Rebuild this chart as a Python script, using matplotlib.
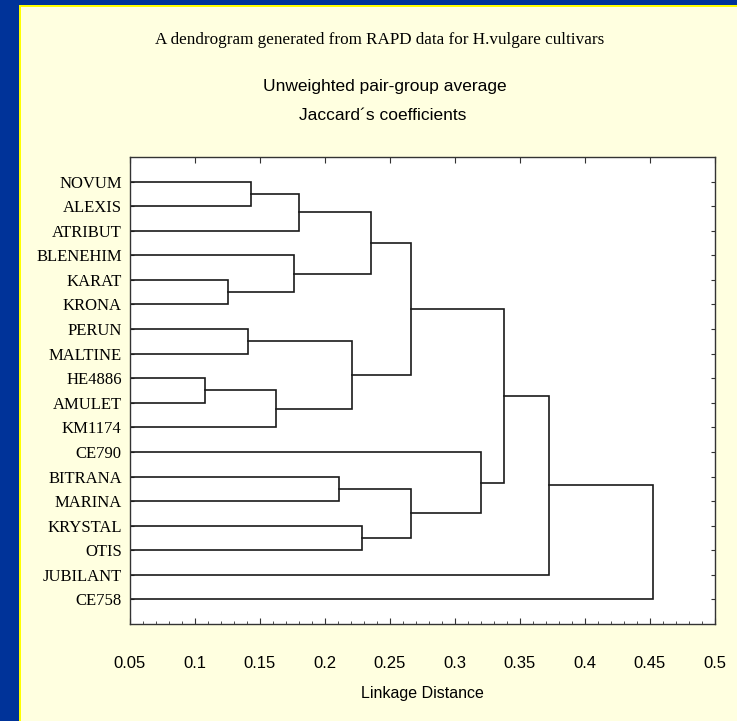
"""
Dendrogram (UPGMA, Jaccard) of RAPD data for H. vulgare cultivars
"""

import matplotlib
matplotlib.use('Agg')
from matplotlib import pyplot as plt
from matplotlib.patches import Rectangle
from matplotlib.ticker import MultipleLocator

# Leaves, top to bottom
cultivars = ['NOVUM', 'ALEXIS', 'ATRIBUT', 'BLENEHIM', 'KARAT', 'KRONA',
             'PERUN', 'MALTINE', 'HE4886', 'AMULET', 'KM1174', 'CE790',
             'BITRANA', 'MARINA', 'KRYSTAL', 'OTIS', 'JUBILANT', 'CE758']

# Merges: (left node, right node, linkage distance); new nodes numbered from 18
merge_left = [0, 18, 4, 3, 19, 6, 8, 24, 23, 22, 12, 14, 28, 11, 27, 32, 33]
merge_right = [1, 2, 5, 20, 21, 7, 9, 10, 25, 26, 13, 15, 29, 30, 31, 16, 17]
merge_dist = [0.143, 0.180, 0.125, 0.1765, 0.2355, 0.141, 0.1075, 0.162,
              0.221, 0.266, 0.211, 0.2285, 0.2665, 0.320, 0.3375, 0.372, 0.452]

x_ticks = [0.05, 0.1, 0.15, 0.2, 0.25, 0.3, 0.35, 0.4, 0.45, 0.5]
x_labels = ['0.05', '0.1', '0.15', '0.2', '0.25', '0.3', '0.35', '0.4', '0.45', '0.5']

sans = ['Liberation Sans', 'DejaVu Sans']
serif = ['Liberation Serif', 'DejaVu Serif']

fig = plt.figure(figsize=(7.37, 7.21), dpi=100)
fig.patch.set_facecolor('#ffffe0')

# Blue frame with yellow inner edge (left and top only)
W, H = 737.0, 721.0
fig.patches.append(Rectangle((0, 0), 19 / W, 1, transform=fig.transFigure,
                             facecolor='#003399', edgecolor='none', zorder=0))
fig.patches.append(Rectangle((0, 1 - 5 / H), 1, 5 / H, transform=fig.transFigure,
                             facecolor='#003399', edgecolor='none', zorder=0))
fig.patches.append(Rectangle((19 / W, 0), 2 / W, 1 - 5 / H, transform=fig.transFigure,
                             facecolor='#ffff00', edgecolor='none', zorder=0))
fig.patches.append(Rectangle((19 / W, 1 - 7 / H), 1, 2 / H, transform=fig.transFigure,
                             facecolor='#ffff00', edgecolor='none', zorder=0))

ax = fig.add_axes([130 / W, 1 - 624 / H, 585 / W, 467 / H])
ax.set_facecolor('white')

# Draw the tree
node_y = {i: i + 1 for i in range(len(cultivars))}
node_h = {i: 0.0 for i in range(len(cultivars))}
for k, (a, b, d) in enumerate(zip(merge_left, merge_right, merge_dist)):
    ya, yb = node_y[a], node_y[b]
    ax.plot([node_h[a], d, d, node_h[b]], [ya, ya, yb, yb],
            color='#1a1a1a', linewidth=1.2, solid_joinstyle='miter')
    node_y[len(cultivars) + k] = (ya + yb) / 2
    node_h[len(cultivars) + k] = d

ax.set_xlim(0.05, 0.5)
ax.set_ylim(len(cultivars) + 1, 0)

ax.set_xticks(x_ticks)
ax.set_xticklabels(x_labels, family=sans, fontsize=12)
ax.xaxis.set_minor_locator(MultipleLocator(0.01))
ax.tick_params(axis='x', which='major', direction='in', length=4, top=True,
               pad=23, color='#333333')
ax.tick_params(axis='x', which='minor', direction='in', length=2, top=False,
               color='#333333')

ax.set_yticks(range(1, len(cultivars) + 1))
ax.set_yticklabels(cultivars, family=serif, fontsize=12)
ax.tick_params(axis='y', direction='in', length=3, right=True, pad=6,
               color='#333333')

for s in ax.spines.values():
    s.set_linewidth(1.0)
    s.set_color('#333333')

ax.set_xlabel('Linkage Distance', family=sans, fontsize=11.5, labelpad=11)

fig.text(380 / W, 1 - 40 / H,
         'A dendrogram generated from RAPD data for H.vulgare cultivars',
         family=serif, fontsize=12.3, ha='center', va='center')
fig.text(385 / W, 1 - 86 / H, 'Unweighted pair-group average',
         family=sans, fontsize=12.5, ha='center', va='center')
fig.text(383 / W, 1 - 116 / H, 'Jaccard\u00b4s coefficients',
         family=sans, fontsize=12.5, ha='center', va='center')

plt.savefig('out.png', dpi=100, facecolor=fig.get_facecolor())
